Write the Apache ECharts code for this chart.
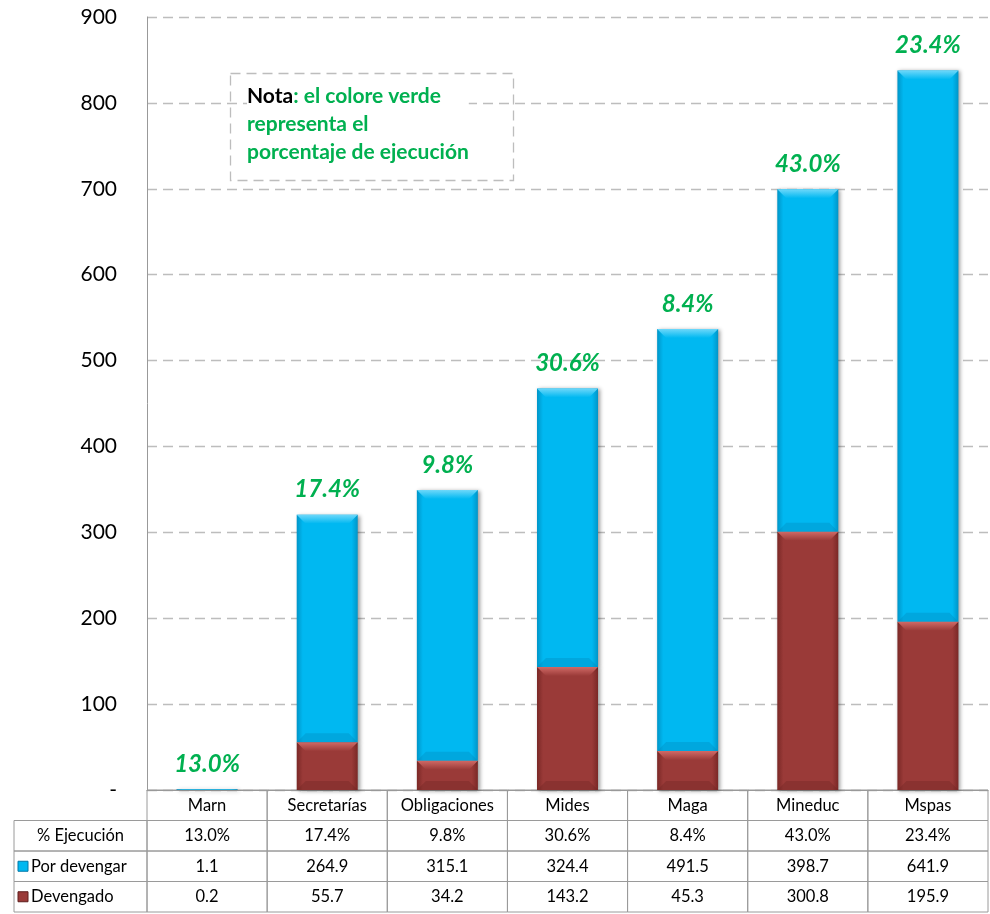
<!DOCTYPE html>
<html>
<head>
<meta charset="utf-8">
<script src="https://cdn.jsdelivr.net/npm/echarts@6/dist/echarts.min.js"></script>
<style>
  html, body { margin: 0; padding: 0; background: #fff; }
  #chart { width: 990px; height: 914px; }
</style>
</head>
<body>
<div id="chart"></div>
<script>
const categories = ['Marn', 'Secretarías', 'Obligaciones', 'Mides', 'Maga', 'Mineduc', 'Mspas'];
const pctEjecucion = [13.0, 17.4, 9.8, 30.6, 8.4, 43.0, 23.4];
const porDevengar = [1.1, 264.9, 315.1, 324.4, 491.5, 398.7, 641.9];
const devengado = [0.2, 55.7, 34.2, 143.2, 45.3, 300.8, 195.9];
const rowLabels = ['', '% Ejecución', 'Por devengar', 'Devengado'];

const FONT = 'Lato, "Noto Sans", sans-serif';
const BLUE = '#00B8F1', RED = '#9A3A38';

const chart = echarts.init(document.getElementById('chart'));

function hGrad(edge, mid) {
  return new echarts.graphic.LinearGradient(0, 0, 1, 0, [
    { offset: 0, color: edge }, { offset: 0.1, color: mid },
    { offset: 0.9, color: mid }, { offset: 1, color: edge }
  ]);
}

// table cells: header row, then the three value rows
const cells = [];
categories.forEach((c, i) => cells.push({ c: i, r: 0, text: c }));
pctEjecucion.forEach((v, i) => cells.push({ c: i, r: 1, text: v.toFixed(1) + '%' }));
porDevengar.forEach((v, i) => cells.push({ c: i, r: 2, text: v.toFixed(1) }));
devengado.forEach((v, i) => cells.push({ c: i, r: 3, text: v.toFixed(1) }));
for (let r = 1; r < rowLabels.length; r++) cells.push({ c: 0, r: r, text: rowLabels[r], label: true });

function renderTable(params, api) {
  const cell = cells[params.dataIndex];
  const p = api.coord([cell.c, cell.r]);
  const s = api.size([1, 1]);
  const cs = params.coordSys;
  const y0 = p[1] - s[1] / 2;
  const txt = { fontSize: 16.5, fontFamily: FONT, fill: '#000' };
  if (cell.label) {
    const x0 = 14, x1 = cs.x;
    const kids = [{ type: 'rect', shape: { x: x0, y: y0, width: x1 - x0, height: s[1] },
      style: { fill: 'none', stroke: '#9a9a9a', lineWidth: 1 } }];
    if (cell.r === 1) {
      kids.push({ type: 'text', style: Object.assign({ text: cell.text, x: (x0 + x1) / 2, y: p[1],
        textAlign: 'center', textVerticalAlign: 'middle' }, txt) });
    } else {
      const col = cell.r === 2 ? BLUE : RED;
      const dark = cell.r === 2 ? '#0078A8' : '#5E1E1D';
      kids.push({ type: 'rect', shape: { x: x0 + 4, y: p[1] - 5, width: 10, height: 10 },
        style: { fill: col, stroke: dark, lineWidth: 1 } });
      kids.push({ type: 'text', style: Object.assign({ text: cell.text, x: x0 + 17, y: p[1],
        textAlign: 'left', textVerticalAlign: 'middle' }, txt) });
    }
    return { type: 'group', children: kids };
  }
  return { type: 'group', children: [
    { type: 'rect', shape: { x: p[0] - s[0] / 2, y: y0, width: s[0], height: s[1] },
      style: { fill: 'none', stroke: '#9a9a9a', lineWidth: 1 } },
    { type: 'text', style: Object.assign({ text: cell.text, x: p[0], y: p[1],
      textAlign: 'center', textVerticalAlign: 'middle' }, txt) }
  ] };
}

// bevels on top and bottom of each stacked segment
function renderBevel(params, api) {
  const i = api.value(0);
  const bw = 61;
  const segs = [[0, api.value(1), '#D06A66', '#6E2422'], [api.value(1), api.value(2), '#6FD8FA', '#0088BA']];
  const kids = [];
  segs.forEach(sg => {
    const b = api.coord([i, sg[0]]), t = api.coord([i, sg[1]]);
    const h = b[1] - t[1];
    const d = Math.min(9, h / 2);
    if (d < 1) return;
    const l = b[0] - bw / 2, r = b[0] + bw / 2;
    kids.push({ type: 'polygon', shape: { points: [[l, t[1]], [r, t[1]], [r - d, t[1] + d], [l + d, t[1] + d]] },
      style: { fill: new echarts.graphic.LinearGradient(0, 0, 0, 1, [
        { offset: 0, color: sg[2] }, { offset: 1, color: sg === segs[0] ? RED : BLUE }]) } });
    kids.push({ type: 'polygon', shape: { points: [[l + d, b[1] - d], [r - d, b[1] - d], [r, b[1]], [l, b[1]]] },
      style: { fill: sg[3], opacity: 0.35 } });
  });
  return { type: 'group', children: kids };
}

const option = {
  animation: false,
  textStyle: { fontFamily: FONT },
  grid: [
    { left: 147, right: 2, top: 17, bottom: 124 },
    { left: 147, right: 2, top: 790, bottom: 2 }
  ],
  xAxis: [
    { type: 'category', gridIndex: 0, data: categories,
      axisLine: { lineStyle: { color: '#999' } }, axisTick: { show: false }, axisLabel: { show: false } },
    { type: 'category', gridIndex: 1, data: categories, show: false }
  ],
  yAxis: [
    { type: 'value', gridIndex: 0, min: 0, max: 900, interval: 100,
      axisLine: { show: true, lineStyle: { color: '#999' } }, axisTick: { show: false },
      axisLabel: { color: '#000', fontSize: 21, fontFamily: FONT, margin: 30,
        formatter: v => v === 0 ? '-' : String(v) },
      splitLine: { lineStyle: { color: '#BDBDBD', type: [10, 6], width: 1.3 } } },
    { type: 'category', gridIndex: 1, data: rowLabels, inverse: true, show: false }
  ],
  graphic: [
    { type: 'rect', left: 228, top: 71, z: 5,
      shape: { width: 283, height: 107 },
      style: { fill: 'none', stroke: '#BDBDBD', lineWidth: 1.3, lineDash: [10, 6] } },
    { type: 'text', left: 247, top: 82, z: 6,
      style: { text: '{b|Nota}{g|: el colore verde}\n{g|representa el}\n{g|porcentaje de ejecución}',
        backgroundColor: '#fff', lineHeight: 28,
        rich: {
          b: { fontSize: 21, fontWeight: 'bold', fill: '#000', fontFamily: FONT, lineHeight: 28 },
          g: { fontSize: 21, fontWeight: 'bold', fill: '#00B050', fontFamily: FONT, lineHeight: 28 }
        } } }
  ],
  series: [
    { name: 'Devengado', type: 'bar', stack: 'total', barWidth: 61, data: devengado,
      itemStyle: { color: hGrad('#7A2826', RED), shadowColor: 'rgba(0,0,0,0.4)', shadowBlur: 4, shadowOffsetX: 2, shadowOffsetY: 1 } },
    { name: 'Por devengar', type: 'bar', stack: 'total', barWidth: 61, data: porDevengar,
      itemStyle: { color: hGrad('#0095C8', BLUE), shadowColor: 'rgba(0,0,0,0.4)', shadowBlur: 4, shadowOffsetX: 2, shadowOffsetY: 1 },
      label: { show: true, position: 'top', distance: 13, color: '#00B050', fontSize: 24,
        fontWeight: 'bold', fontStyle: 'italic', fontFamily: FONT,
        formatter: p => pctEjecucion[p.dataIndex].toFixed(1) + '%' } },
    { type: 'custom', xAxisIndex: 0, yAxisIndex: 0, z: 3, silent: true,
      data: categories.map((c, i) => [i, devengado[i], devengado[i] + porDevengar[i]]),
      renderItem: renderBevel },
    { type: 'custom', xAxisIndex: 1, yAxisIndex: 1, silent: true,
      data: cells.map(d => [d.c, d.r]),
      renderItem: renderTable }
  ]
};

chart.setOption(option);
</script>
</body>
</html>
